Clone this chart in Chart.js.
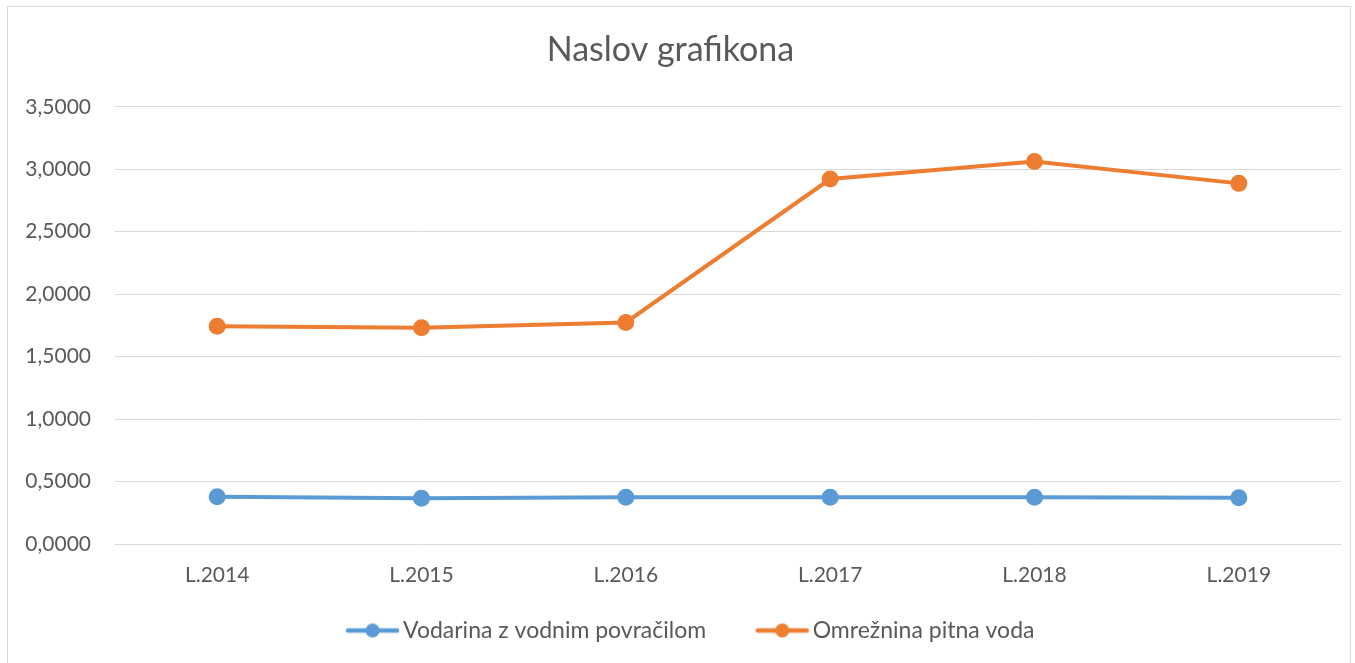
<!DOCTYPE html>
<html lang="sl">
<head>
    <meta charset="UTF-8">
    <title>Naslov grafikona</title>
    <script src="https://cdn.jsdelivr.net/npm/chart.js"></script>
    <style>
        html, body {
            margin: 0;
            padding: 0;
            background: #fff;
            overflow: hidden;
        }

        .frame {
            position: absolute;
            left: 7px;
            top: 6px;
            width: 1342px;
            height: 680px;
            border: 1px solid #d9d9d9;
        }

        .wrap {
            position: absolute;
            left: 0;
            top: 0;
            width: 1355px;
            height: 663px;
        }
    </style>
</head>
<body>
<div class="frame"></div>
<div class="wrap"><canvas id="waterChart"></canvas></div>

<script>
  const years = ['L.2014', 'L.2015', 'L.2016', 'L.2017', 'L.2018', 'L.2019'];
  const vodarina = [0.378, 0.367, 0.375, 0.375, 0.375, 0.370];
  const omreznina = [1.744, 1.731, 1.774, 2.922, 3.063, 2.887];
  const yTicks = [0, 0.5, 1, 1.5, 2, 2.5, 3, 3.5];

  const textColor = '#595959';
  const fontName = 'Lato, "Open Sans", sans-serif';

  // legend marker: line with a dot, like Excel. The image is wider than the
  // marker so the empty left part works as the gap between legend items.
  function legendMarker(color) {
    const c = document.createElement('canvas');
    c.width = 102;
    c.height = 16;
    const g = c.getContext('2d');
    g.strokeStyle = color;
    g.lineWidth = 4.5;
    g.lineCap = 'round';
    g.beginPath();
    g.moveTo(50, 8);
    g.lineTo(99, 8);
    g.stroke();
    g.fillStyle = color;
    g.beginPath();
    g.arc(74.5, 8, 7, 0, Math.PI * 2);
    g.fill();
    return c;
  }

  function fmt(v) {
    return v.toFixed(4).replace('.', ',');
  }

  const ctx = document.getElementById('waterChart').getContext('2d');
  new Chart(ctx, {
    type: 'line',
    data: {
      labels: years,
      datasets: [{
        label: 'Vodarina z vodnim povračilom',
        data: vodarina,
        borderColor: '#5B9BD5',
        backgroundColor: '#5B9BD5',
        borderWidth: 4,
        pointRadius: 6.5,
        pointHoverRadius: 7,
        pointStyle: 'circle',
        tension: 0
      }, {
        label: 'Omrežnina pitna voda',
        data: omreznina,
        borderColor: '#ED7D31',
        backgroundColor: '#ED7D31',
        borderWidth: 4,
        pointRadius: 6.5,
        pointHoverRadius: 7,
        pointStyle: 'circle',
        tension: 0
      }]
    },
    options: {
      responsive: true,
      maintainAspectRatio: false,
      animation: false,
      layout: {
        padding: { top: 20, right: 14, bottom: 11, left: 0 }
      },
      scales: {
        x: {
          offset: true,
          grid: { display: false, drawTicks: false },
          border: { display: false },
          ticks: {
            color: textColor,
            font: { family: fontName, size: 21 },
            padding: 19,
            maxRotation: 0
          },
          afterFit: function(axis) {
            axis.height = 65;
          }
        },
        y: {
          min: 0,
          max: 3.5,
          afterBuildTicks: function(axis) {
            axis.ticks = yTicks.map(v => ({ value: v }));
          },
          grid: { color: '#d9d9d9', lineWidth: 1, drawTicks: false },
          border: { display: false },
          ticks: {
            color: textColor,
            font: { family: fontName, size: 21 },
            padding: 24,
            callback: function(value) {
              return fmt(value);
            }
          },
          afterFit: function(axis) {
            axis.width = 115;
          }
        }
      },
      plugins: {
        title: {
          display: true,
          text: 'Naslov grafikona',
          color: textColor,
          font: { family: fontName, size: 34, weight: 'normal' },
          padding: { top: 10, bottom: 36 }
        },
        legend: {
          position: 'bottom',
          labels: {
            color: textColor,
            font: { family: fontName, size: 23 },
            usePointStyle: true,
            pointStyleWidth: 85,
            boxHeight: 16,
            padding: 10,
            generateLabels: function(chart) {
              return chart.data.datasets.map((ds, i) => ({
                text: ds.label,
                fontColor: textColor,
                pointStyle: legendMarker(ds.borderColor),
                lineWidth: 0,
                strokeStyle: 'transparent',
                fillStyle: ds.borderColor,
                datasetIndex: i,
                hidden: !chart.isDatasetVisible(i)
              }));
            }
          }
        },
        tooltip: {
          callbacks: {
            label: function(item) {
              return item.dataset.label + ': ' + fmt(item.raw);
            }
          }
        }
      }
    }
  });
</script>
</body>
</html>
